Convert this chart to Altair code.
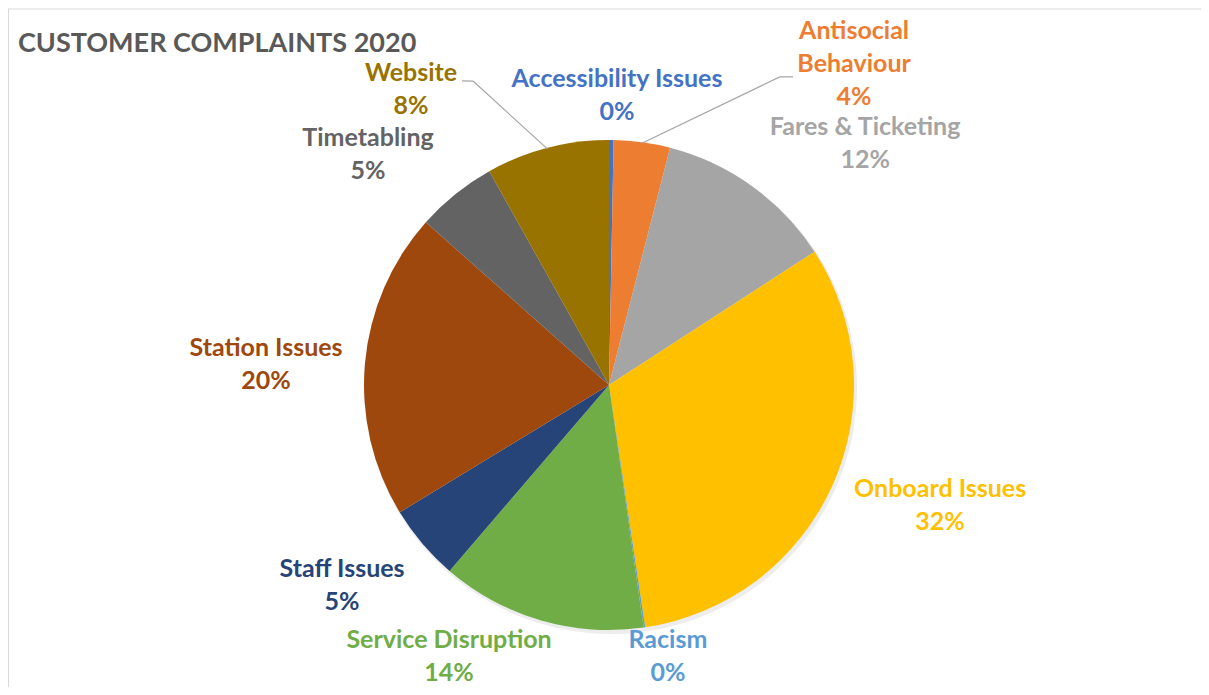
import math
import altair as alt
import pandas as pd

# ---------------- data ----------------
CATEGORIES = [
    "Accessibility Issues", "Antisocial Behaviour", "Fares & Ticketing",
    "Onboard Issues", "Racism", "Service Disruption", "Staff Issues",
    "Station Issues", "Timetabling", "Website",
]
VALUES = [0.3, 3.7, 11.8, 31.7, 0.1, 13.5, 5.0, 20.2, 5.3, 8.1]
LABEL_NAMES = [
    "Accessibility Issues", "Antisocial\nBehaviour", "Fares & Ticketing",
    "Onboard Issues", "Racism", "Service Disruption", "Staff Issues",
    "Station Issues", "Timetabling", "Website",
]
COLORS = ["#4472C4", "#ED7D31", "#A5A5A5", "#FFC000", "#5B9BD5",
          "#70AD47", "#264478", "#9E480E", "#636363", "#997300"]
TITLE = "CUSTOMER COMPLAINTS 2020"

# ---------------- layout ----------------
W, H = 1193, 679
CX, CY = 601, 377
R = 245
FONT = "Lato"
# polar position (deg clockwise from top, px) of each label's first line
LABEL_ANGLE = [1.5, 34.7, 44.8, 107.4, 167.0, 212.1, 235.4, 276.2, 315.7, 327.6]
LABEL_RADIUS = [306, 430.5, 363.5, 347, 262, 301, 324.3, 345, 345, 369.5]
# leader lines: (category index, corner angle, corner radius, end angle, end radius)
LEADERS = [(9, 335.9, 333, 334.2, 337.7), (1, 29.0, 352.3, 30.85, 358.8)]

total = sum(VALUES)
pct = [round(v / total * 100) for v in VALUES]
df = pd.DataFrame({
    "idx": list(range(len(CATEGORIES))),
    "category": CATEGORIES,
    "value": VALUES,
    "label": [f"{n}\n{p}%" for n, p in zip(LABEL_NAMES, pct)],
    "la": LABEL_ANGLE,
    "lr": LABEL_RADIUS,
})

# mid angles of slices (degrees, clockwise from top)
cum = 0
mids = []
for v in VALUES:
    mids.append((cum + v / 2) / total * 360)
    cum += v


def pt(a, r):
    return CX + r * math.sin(math.radians(a)), CY - r * math.cos(math.radians(a))


segs = []
for i, ca, cr, ea, er in LEADERS:
    x0, y0 = pt(mids[i], R - 1)
    x1, y1 = pt(ca, cr)
    x2, y2 = pt(ea, er)
    segs.append({"x": x0, "y": y0, "x2": x1, "y2": y1})
    segs.append({"x": x1, "y": y1, "x2": x2, "y2": y2})
seg_df = pd.DataFrame(segs)

color_scale = alt.Scale(domain=CATEGORIES, range=COLORS)

shadow = alt.Chart(pd.DataFrame({"d": [0]})).mark_arc(
    color="#000000", opacity=0.07
).encode(
    theta=alt.value(0), theta2=alt.value(2 * math.pi),
    radius=alt.value(R + 1),
    x=alt.value(CX + 2), y=alt.value(CY + 3),
)

pie = alt.Chart(df).mark_arc(outerRadius=R).encode(
    theta=alt.Theta("value:Q", stack=True),
    order=alt.Order("idx:Q"),
    color=alt.Color("category:N", scale=color_scale, legend=None),
    x=alt.value(CX), y=alt.value(CY),
)

labels = alt.Chart(df).mark_text(
    font=FONT, fontSize=25, fontWeight="bold", lineBreak="\n",
    lineHeight=33, align="center", baseline="middle",
).encode(
    theta=alt.Theta("la:Q", stack=None, scale=alt.Scale(domain=[0, 360])),
    radius=alt.Radius("lr:Q", scale=alt.Scale(domain=[0, 1000], range=[0, 1000])),
    text="label:N",
    color=alt.Color("category:N", scale=color_scale, legend=None),
    x=alt.value(CX), y=alt.value(CY),
)

leaders = alt.Chart(seg_df).mark_rule(color="#A6A6A6", strokeWidth=1.2).encode(
    x=alt.X("x:Q", scale=alt.Scale(domain=[0, W], range=[0, W], nice=False, zero=False), axis=None),
    y=alt.Y("y:Q", scale=alt.Scale(domain=[0, H], range=[0, H], nice=False, zero=False), axis=None),
    x2="x2:Q", y2="y2:Q",
)

title = alt.Chart(pd.DataFrame({"t": [TITLE]})).mark_text(
    font=FONT, fontSize=27, fontWeight="bold", color="#595959",
    align="left", baseline="middle",
).encode(text="t:N", x=alt.value(10), y=alt.value(36))

border = alt.Chart(pd.DataFrame({"d": [0]})).mark_rule(color="#D9D9D9", strokeWidth=1).encode(
    x=alt.value(0), x2=alt.value(W), y=alt.value(1), y2=alt.value(1)
)
border_left = alt.Chart(pd.DataFrame({"d": [0]})).mark_rule(color="#D9D9D9", strokeWidth=1).encode(
    x=alt.value(0.5), x2=alt.value(0.5), y=alt.value(1), y2=alt.value(H)
)

chart = alt.layer(
    border, border_left, shadow, pie, leaders, labels, title
).resolve_scale(theta="independent", radius="independent").properties(
    width=W, height=H, autosize=alt.AutoSizeParams(type="none"), padding=0,
    background="white",
).configure_view(stroke=None)

chart.save("out.html", embed_options={"renderer": "svg", "actions": False})
